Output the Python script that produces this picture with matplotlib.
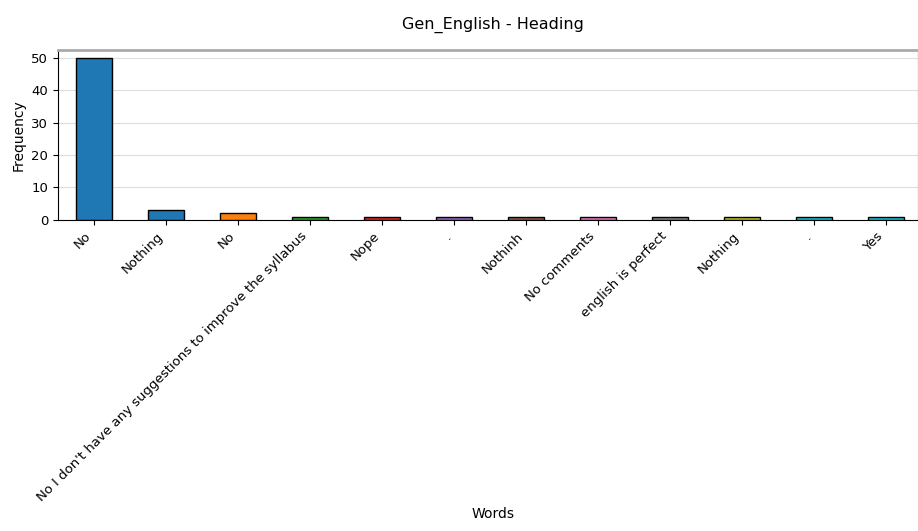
import matplotlib
matplotlib.use("Agg")
import matplotlib.pyplot as plt

words = ["No", "Nothing", "No", "No I don't have any suggestions to improve the syllabus",
         "Nope", ".", "Nothinh", "No comments", "english is perfect", "Nothing", ".", "Yes"]
counts = [50, 3, 2, 1, 1, 1, 1, 1, 1, 1, 1, 1]
colors = ["#1f77b4", "#1f77b4", "#ff7f0e", "#2ca02c", "#d62728", "#9467bd",
          "#8c564b", "#e377c2", "#7f7f7f", "#bcbd22", "#17becf", "#17becf"]

fig = plt.figure(figsize=(9.18, 5.31), dpi=100)
ax = fig.add_axes([0.063, 0.586, 0.937, 0.32])
x = list(range(len(words)))
ax.bar(x, counts, width=0.5, color=colors, edgecolor="black", linewidth=1, zorder=3)
ax.set_xticks(x)
ax.set_xticklabels(words, rotation=45, ha="right", rotation_mode="default", fontsize=9.5)
ax.set_xlim(-0.5, 11.45)
ax.set_ylim(0, 52.5)
ax.set_yticks([0, 10, 20, 30, 40, 50])
ax.tick_params(axis="y", labelsize=9.5)
ax.yaxis.grid(True, color="#dddddd", linewidth=0.8, zorder=0)
ax.set_axisbelow(True)
ax.spines["top"].set_color("#aaaaaa")
ax.spines["top"].set_linewidth(2)
ax.set_ylabel("Frequency", fontsize=10)
fig.text(0.537, 0.018, "Words", ha="center", va="bottom", fontsize=10)
fig.text(0.537, 0.953, "Gen_English - Heading", ha="center", va="center", fontsize=11.5)
fig.savefig("out.png", dpi=100)
